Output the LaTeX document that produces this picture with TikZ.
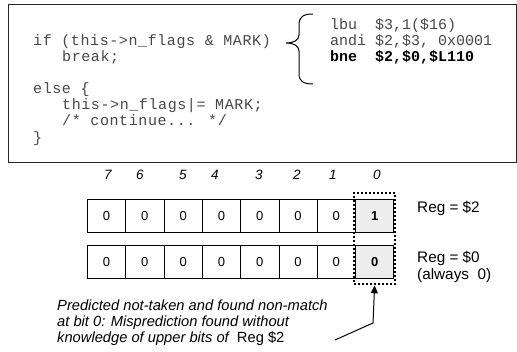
\documentclass[tikz,border=0pt]{standalone}
\usepackage{fontspec}
\setmainfont{Liberation Sans}
\setmonofont{Liberation Mono}
\newfontfamily\codefont[LetterSpace=4]{Liberation Mono}
\usetikzlibrary{arrows.meta,fit}

\begin{document}
\begin{tikzpicture}[x=1pt,y=-1pt,
  frame/.style={draw=black!85, line width=1.3pt, inner sep=0pt, anchor=north west},
  code/.style={anchor=mid west, inner sep=0pt, font=\codefont\fontsize{15}{16}\selectfont, text=black!72},
  asm/.style={anchor=mid west, inner sep=0pt, font=\ttfamily\fontsize{15}{16}\selectfont, text=black!72},
  cell/.style={draw, line width=0.8pt, minimum width=38.3pt, minimum height=33pt, inner sep=0pt,
    anchor=north west, font=\fontsize{13}{13}\selectfont},
  lowbit/.style={cell, fill=black!7, font=\bfseries\fontsize{13}{13}\selectfont},
  bitnum/.style={inner sep=0pt, font=\itshape\fontsize{13.5}{13.5}\selectfont},
  reglabel/.style={anchor=mid west, inner sep=0pt, align=left, font=\fontsize{15.3}{17}\selectfont},
  note/.style={anchor=north west, inner sep=0pt, align=left, font=\itshape\fontsize{14.7}{16}\selectfont},
  selbox/.style={draw, line width=2pt, dash pattern=on 2pt off 2pt, inner xsep=1pt, inner ysep=5.5pt},
  pointer/.style={line width=1pt, -{Triangle[length=8pt,width=7pt]}}
]
\useasboundingbox (0,0) rectangle (517,352);

% code listing frame
\node[frame, minimum width=508pt, minimum height=158pt] (frame) at (8,4) {};

% C source
\node[code] (c1) at (33,43) {if (this->n\_flags \& MARK)};
\node[code] (c2) at (62,59) {break;};
\node[code] (c3) at (33,91) {else \{};
\node[code] (c4) at (62,107) {this->n\_flags|= MARK;};
\node[code] (c5) at (62,123) {/* continue... */};
\node[code] (c6) at (33,140) {\}};

% brace grouping the compiled instructions
\draw[line width=1pt] (313,14) .. controls (303,14) and (299,17) .. (299,25)
  -- (299,35) .. controls (299,40) and (294,43) .. (286,43)
  .. controls (294,43) and (299,46) .. (299,51)
  -- (299,74) .. controls (299,81) and (303,84) .. (313,84);

% MIPS instructions
\node[asm] (a1) at (330,27) {lbu\ \ \$3,1(\$16)};
\node[asm] (a2) at (330,43) {andi \$2,\$3, 0x0001};
\node[asm, font=\ttfamily\bfseries\fontsize{15}{16}\selectfont, text=black] (a3) at (330,59) {bne\ \ \$2,\$0,\$L110};

% bit positions
\foreach \b/\x in {7/108,6/140,5/183,4/215,3/259,2/297,1/333,0/377}
  \node[bitnum] (n\b) at (\x,175) {\b};

% register $2
\foreach \b [evaluate=\b as \x using 87+(7-\b)*38.3] in {7,6,...,1}
  \node[cell] (p\b) at (\x,199) {0};
\node[lowbit] (p0) at (355.1,199) {1};

% register $0
\foreach \b [evaluate=\b as \x using 87+(7-\b)*38.3] in {7,6,...,1}
  \node[cell] (q\b) at (\x,245) {0};
\node[lowbit] (q0) at (355.1,245) {0};

\node[selbox, fit=(p0)(q0)] (sel) {};

\node[reglabel] (r2) at (417,210) {Reg = \$2};
\node[reglabel, anchor=north west] (r0) at (417,251) {Reg = \$0\\(always\ \ 0)};

% explanation and pointer
\node[note] (expl) at (57,300) {Predicted not-taken and found non-match\\
at bit 0: Misprediction found without\\
knowledge of upper bits of \ {\upshape Reg \$2}};
\coordinate (tail) at (335,340);
\coordinate (bend) at (373,323);
\draw[pointer] (tail) -- (bend) -- (sel.south);
\end{tikzpicture}
\end{document}
